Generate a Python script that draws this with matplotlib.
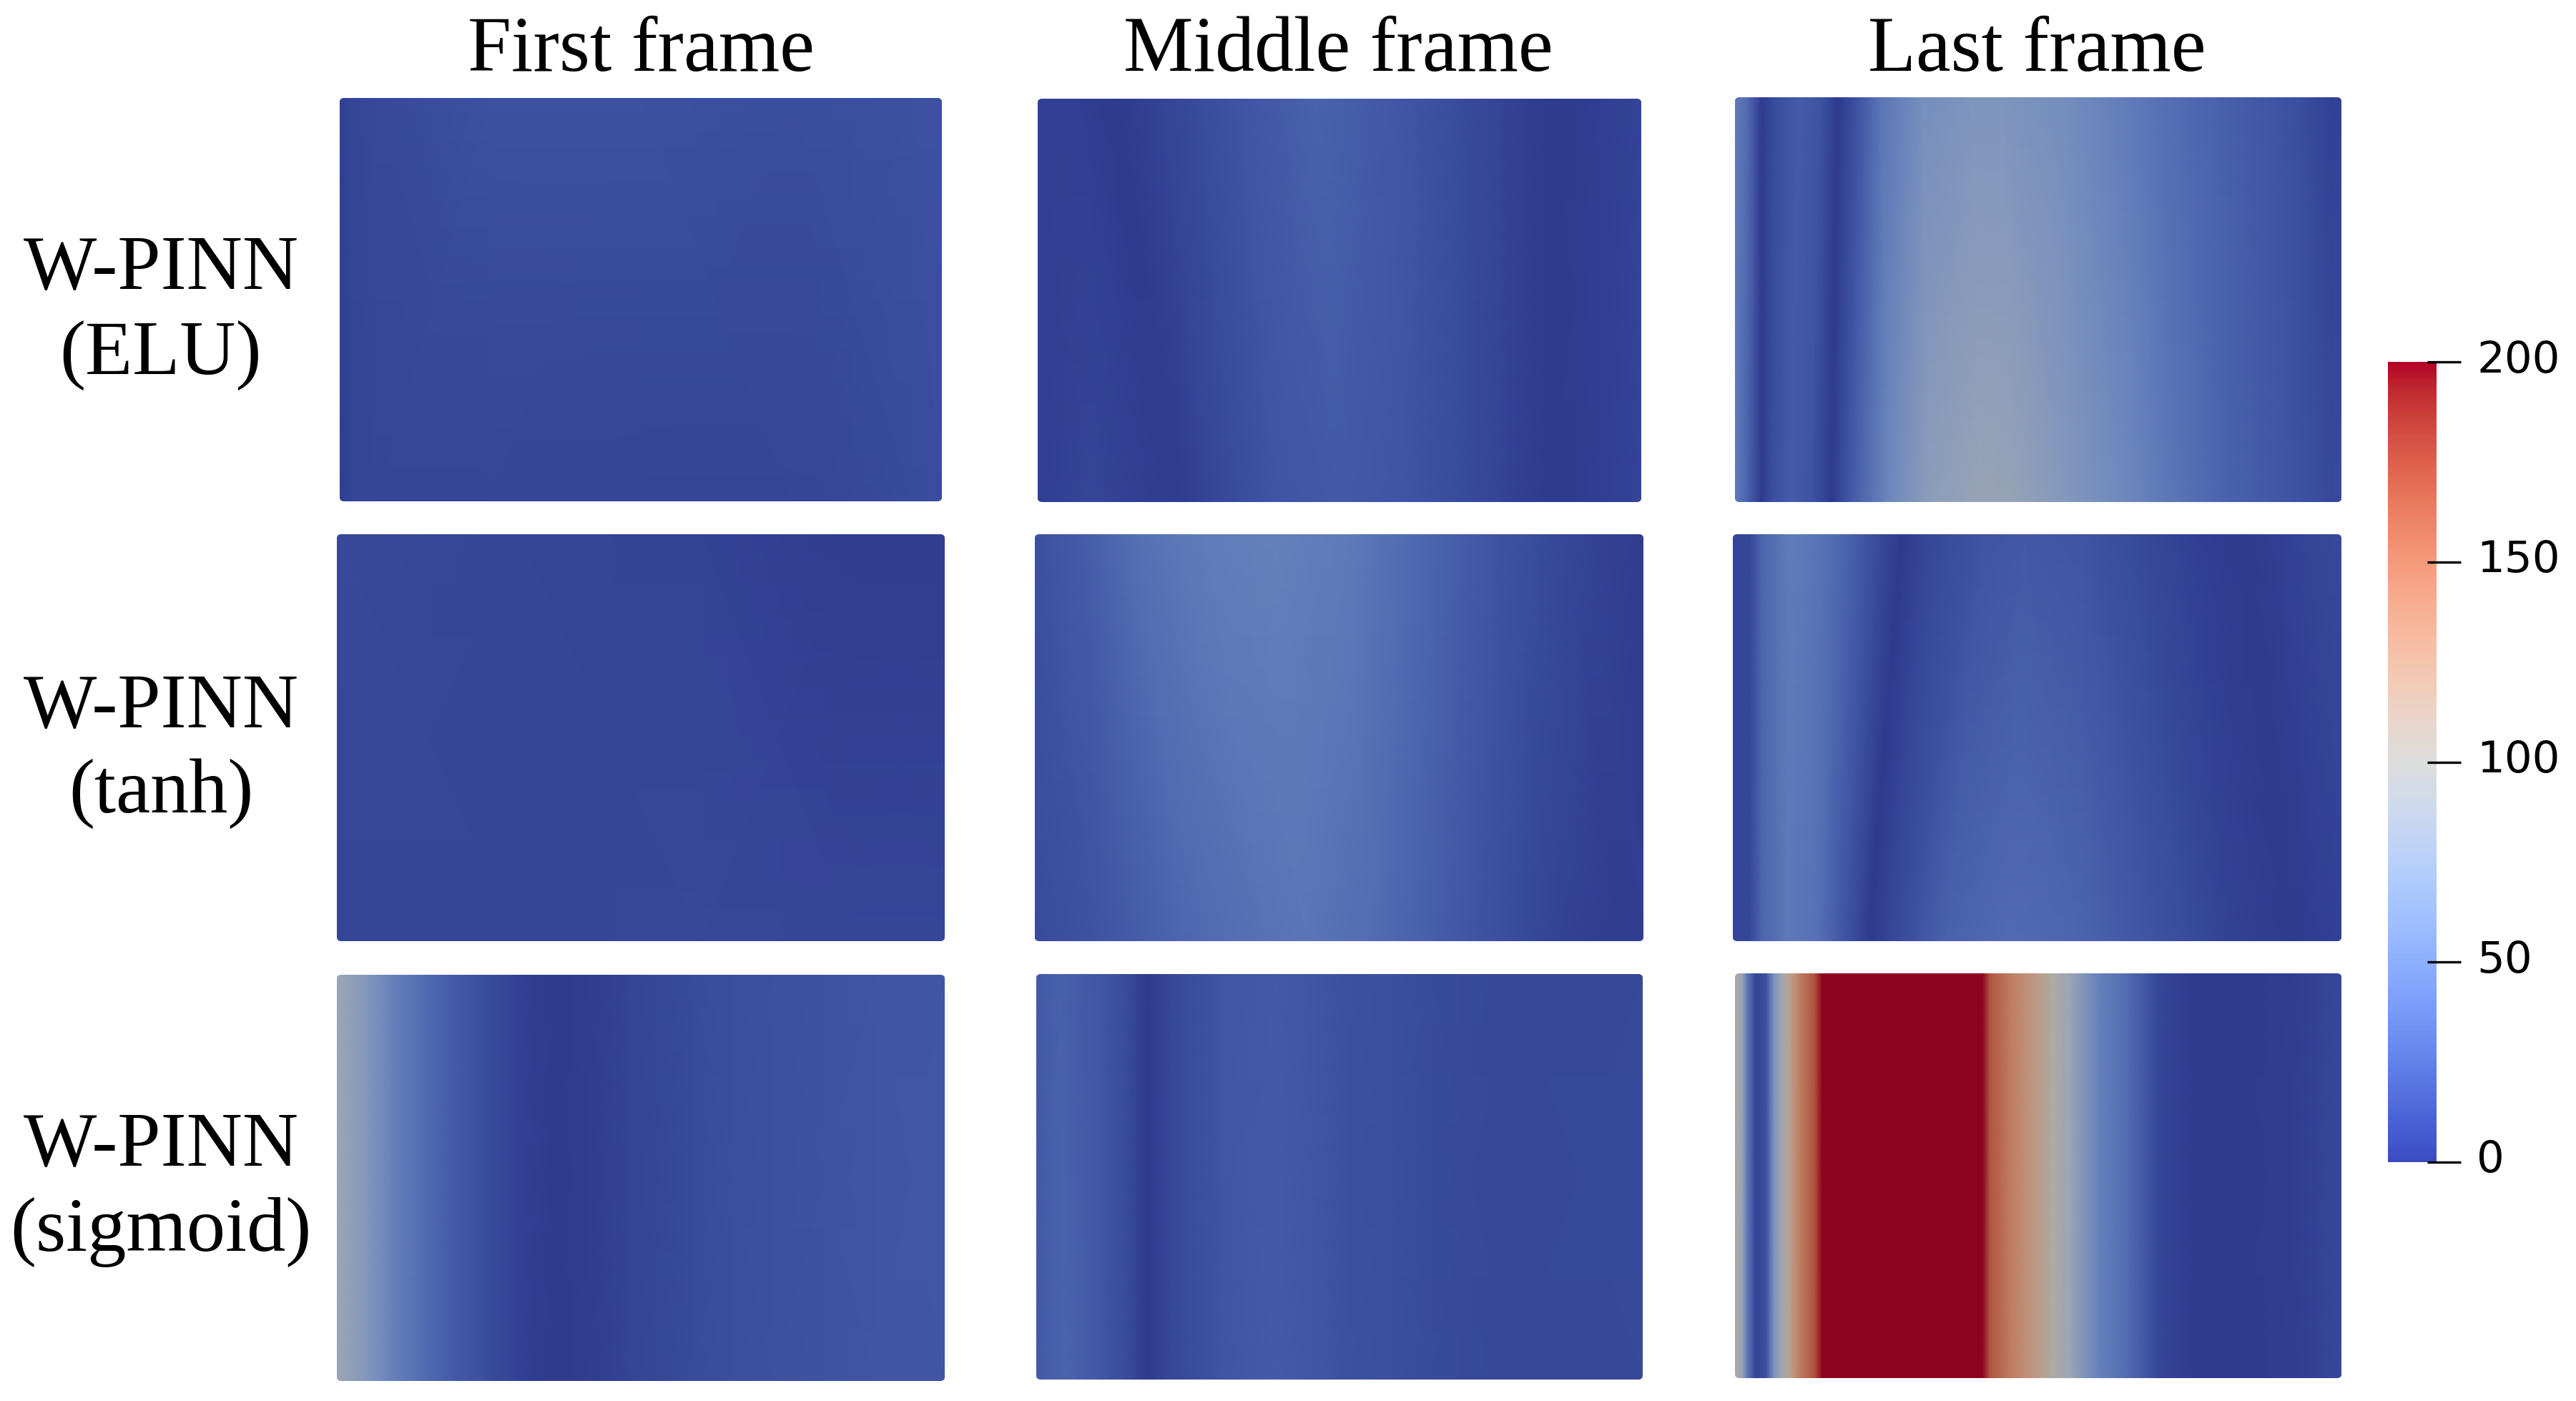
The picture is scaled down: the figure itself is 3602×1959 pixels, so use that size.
import numpy as np
import matplotlib
matplotlib.use("Agg")
import matplotlib.pyplot as plt
from matplotlib.colors import ListedColormap, Normalize
from matplotlib.patches import FancyBboxPatch
from matplotlib.transforms import IdentityTransform, blended_transform_factory

W, H = 3602, 1959
SERIF = "Liberation Serif"

COLUMN_TITLES = ["First frame", "Middle frame", "Last frame"]
ROW_LINE1 = ["W-PINN", "W-PINN", "W-PINN"]
ROW_LINE2 = ["(ELU)", "(tanh)", "(sigmoid)"]
CBAR_TICKS = [0, 50, 100, 150, 200]
VMIN, VMAX = 0, 200

# Field values across each panel: position (0-1) and value along top and bottom edge
elu_first_xt = [0, .02, .06, .25, .5, .75, .95, 1]
elu_first_xb = [0, .02, .06, .25, .5, .75, .95, 1]
elu_first_vt = [3, 7, 9, 13, 13, 11, 13, 14]
elu_first_vb = [3, 6, 7, 7, 6, 7, 10, 11]

elu_mid_xt = [0, .07, .13, .24, .34, .46, .58, .72, .85, .93, 1]
elu_mid_xb = [0, .09, .23, .31, .39, .50, .615, .73, .846, .935, 1]
elu_mid_vt = [3, 3, 0, 8, 16, 24, 18, 9, 0, 3, 6]
elu_mid_vb = [3, 7, 1, 9, 15, 19, 15, 8, 0, 3, 6]

elu_last_xt = [0, .02, .044, .064, .105, .139, .169, .2, .24, .308, .389, .443, .545, .647, .714, .816, .917, .985, 1]
elu_last_xb = [0, .02, .044, .064, .091, .125, .159, .193, .254, .322, .403, .457, .545, .647, .714, .816, .917, .985, 1]
elu_last_vt = [40, 30, 0, 10, 20, 15, 0, 13, 36, 56, 62, 62, 55, 42, 32, 22, 14, 4, 5]
elu_last_vb = [42, 25, 0, 12, 20, 15, 0, 19, 50, 72, 82, 80, 65, 50, 38, 24, 15, 9, 9]

tanh_first_xt = [0, .3, .6, .85, 1]
tanh_first_xb = [0, .3, .6, .85, 1]
tanh_first_vt = [9, 7, 5, 2, 2]
tanh_first_vb = [7, 7, 8, 7, 7]

tanh_mid_xt = [0, .075, .177, .278, .393, .514, .615, .683, .784, .885, 1]
tanh_mid_xb = [0, .109, .244, .379, .447, .548, .649, .75, .851, .953, 1]
tanh_mid_vt = [14, 20, 34, 42, 44, 40, 29, 22, 13, 7, 2]
tanh_mid_vb = [10, 15, 27, 35, 36, 31, 22, 13, 6, 2, 3]

tanh_last_xt = [0, .027, .047, .094, .148, .196, .243, .277, .324, .412, .479, .58, .681, .769, .843, .904, 1]
tanh_last_xb = [0, .027, .047, .088, .135, .175, .202, .223, .263, .351, .459, .567, .688, .81, .918, .965, 1]
tanh_last_vt = [7, 7, 25, 42, 35, 22, 9, 0, 8, 15, 18, 15, 8, 3, 0, 4, 9]
tanh_last_vb = [7, 7, 25, 39, 35, 18, 9, 0, 8, 24, 30, 26, 15, 5, 0, 3, 4]

sig_first_xt = [0, .043, .09, .144, .191, .245, .299, .36, .414, .481, .583, .718, .886, 1]
sig_first_xb = [0, .043, .09, .144, .191, .245, .299, .36, .414, .481, .583, .718, .886, 1]
sig_first_vt = [85, 68, 46, 30, 20, 11, 4, 0, 2, 6, 10, 14, 16, 17]
sig_first_vb = [85, 68, 46, 30, 20, 11, 4, 0, 2, 6, 10, 14, 16, 17]

sig_mid_xt = [0, .039, .108, .149, .183, .223, .31, .393, .514, .65, .786, 1]
sig_mid_xb = [0, .05, .108, .149, .183, .223, .31, .393, .514, .65, .786, 1]
sig_mid_vt = [18, 23, 17, 10, 0, 8, 17, 19, 14, 10, 8, 9]
sig_mid_vb = [18, 25, 17, 10, 0, 8, 16, 20, 14, 10, 8, 9]

sig_last_xt = [0, .0115, .02, .034, .051, .064, .078, .091, .105, .132, .144, .408, .42, .457, .491, .525, .552, .599, .647, .701, .762, .836, .917, 1]
sig_last_xb = [0, .0115, .02, .034, .051, .064, .078, .091, .105, .132, .144, .408, .42, .457, .491, .525, .552, .599, .647, .701, .762, .836, .917, 1]
sig_last_vt = [100, 85, 40, 6, 12, 60, 90, 115, 142, 172, 205, 205, 170, 144, 125, 100, 84, 46, 30, 7, 0, 0, 2, 8]
sig_last_vb = [100, 85, 40, 6, 12, 60, 90, 115, 142, 172, 205, 205, 170, 144, 125, 100, 84, 46, 30, 7, 0, 0, 2, 8]

# Layout in reference pixels: left, right, top, bottom
BOXES = [
    [(475, 1317, 137, 701), (1451, 2295, 138, 702), (2426, 3274, 136, 702)],
    [(471, 1321, 747, 1316), (1447, 2298, 747, 1316), (2423, 3274, 747, 1316)],
    [(471, 1321, 1363, 1931), (1449, 2297, 1362, 1929), (2426, 3274, 1361, 1927)],
]
PANELS = [
    [(elu_first_xt, elu_first_xb, elu_first_vt, elu_first_vb),
     (elu_mid_xt, elu_mid_xb, elu_mid_vt, elu_mid_vb),
     (elu_last_xt, elu_last_xb, elu_last_vt, elu_last_vb)],
    [(tanh_first_xt, tanh_first_xb, tanh_first_vt, tanh_first_vb),
     (tanh_mid_xt, tanh_mid_xb, tanh_mid_vt, tanh_mid_vb),
     (tanh_last_xt, tanh_last_xb, tanh_last_vt, tanh_last_vb)],
    [(sig_first_xt, sig_first_xb, sig_first_vt, sig_first_vb),
     (sig_mid_xt, sig_mid_xb, sig_mid_vt, sig_mid_vb),
     (sig_last_xt, sig_last_xb, sig_last_vt, sig_last_vb)],
]

fig = plt.figure(figsize=(W / 100, H / 100), dpi=100, facecolor="white")


def fx(x):
    return x / W


def fy(y):
    return 1 - y / H


def add_axes_px(x0, x1, y0, y1):
    return fig.add_axes([fx(x0), fy(y1), (x1 - x0) / W, (y1 - y0) / H])


base = matplotlib.colormaps["coolwarm"]
rgba = base(np.linspace(0, 1, 256))
rgba[:, :3] *= np.array([0.78, 0.77, 0.745])
shaded = ListedColormap(rgba, name="coolwarm_shaded")
norm = Normalize(VMIN, VMAX)

for r in range(3):
    for c in range(3):
        x0, x1, y0, y1 = BOXES[r][c]
        xt, xb, vt, vb = PANELS[r][c]
        ax = add_axes_px(x0, x1, y0, y1)
        ax.set_xlim(0, 1)
        ax.set_ylim(0, 1)
        ax.axis("off")
        X = np.array([xb, xt], dtype=float)
        Y = np.array([[0.0] * len(xb), [1.0] * len(xt)])
        C = np.array([vb, vt], dtype=float)
        mesh = ax.pcolormesh(X, Y, C, shading="gouraud", cmap=shaded, norm=norm)
        clip = FancyBboxPatch((x0 + 6, H - y1 + 6), x1 - x0 - 12, y1 - y0 - 12,
                              boxstyle="round,pad=6,rounding_size=6",
                              transform=IdentityTransform())
        mesh.set_clip_path(clip)

# Column titles
for cx, t in zip([896, 1871, 2848], COLUMN_TITLES):
    fig.text(fx(cx), fy(99), t, ha="center", va="baseline",
             family=SERIF, fontsize=79, color="black")

# Row labels
for base_y, l1, l2 in zip([404, 1017, 1630], ROW_LINE1, ROW_LINE2):
    fig.text(fx(225), fy(base_y), l1, ha="center", va="baseline",
             family=SERIF, fontsize=78, color="black")
    fig.text(fx(225), fy(base_y + 119), l2, ha="center", va="baseline",
             family=SERIF, fontsize=78, color="black")

# Colour bar
cax = add_axes_px(3339, 3407, 506, 1625)
sm = plt.cm.ScalarMappable(norm=norm, cmap=base)
cb = fig.colorbar(sm, cax=cax, ticks=[])
cb.outline.set_visible(False)
cb.ax.tick_params(length=0)
tr = blended_transform_factory(cax.transAxes, cax.transData)
for v in CBAR_TICKS:
    cax.plot([0.81, 1.5], [v, v], transform=tr, color="black", lw=2.4,
             clip_on=False, solid_capstyle="butt")
    cax.annotate(str(v), xy=(1, v), xycoords=tr, xytext=(3463 - 3407, 2),
                 textcoords="offset pixels", ha="left", va="center",
                 family="DejaVu Sans", fontsize=44, color="black",
                 annotation_clip=False)

fig.savefig("out.png", dpi=100, facecolor="white")
